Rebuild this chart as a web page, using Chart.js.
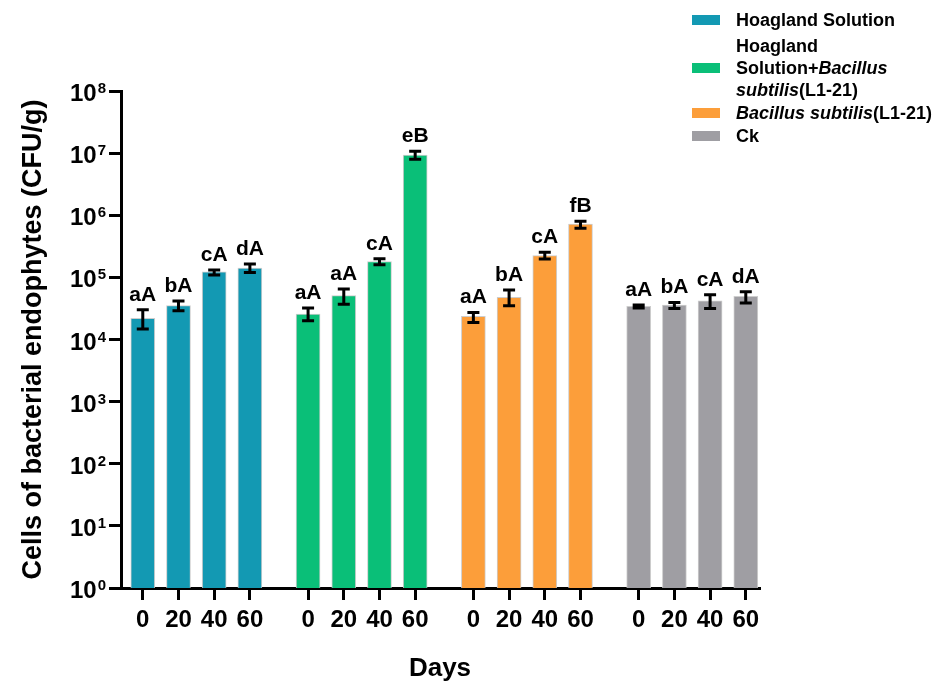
<!DOCTYPE html>
<html>
<head>
<meta charset="utf-8">
<script src="https://cdn.jsdelivr.net/npm/chart.js@4.4.1/dist/chart.umd.min.js"></script>
<style>
  body { margin: 0; background: #fff; }
  #wrap { position: relative; width: 942px; height: 684px; }
  .legend-item {
    position: absolute; left: 692px; display: flex; align-items: center;
    font: bold 18px "Liberation Sans", Arial, sans-serif; line-height: 22px; color: #000;
  }
  .legend-item .box { width: 28px; height: 10px; margin-right: 16px; flex: none; }
</style>
</head>
<body>
<div id="wrap">
  <canvas id="chart" width="942" height="684"></canvas>
  <div id="legend"></div>
</div>
<script>
// ===============================
// DATA
// ===============================

const days = ["0", "20", "40", "60"];
const yExponents = [0, 1, 2, 3, 4, 5, 6, 7, 8];

const seriesNames = [
  "Hoagland Solution",
  "Hoagland Solution+Bacillus subtilis(L1-21)",
  "Bacillus subtilis(L1-21)",
  "Ck"
];
const legendHtml = [
  "Hoagland Solution",
  "Hoagland<br>Solution+<i>Bacillus</i><br><i>subtilis</i>(L1-21)",
  "<i>Bacillus subtilis</i>(L1-21)",
  "Ck"
];
const seriesColors = ["#1399b3", "#0abf78", "#fc9e3a", "#9f9ea3"];

// CFU/g means
const hoaglandValues = [22000, 35000, 123000, 141000];
const hoaglandBsValues = [25700, 50700, 179000, 9300000];
const bsValues = [23500, 47600, 224000, 720000];
const ckValues = [34100, 35800, 42000, 49400];

// error bar ends (low / high)
const hoaglandLow = [14700, 29000, 109000, 120000];
const hoaglandHigh = [30000, 41500, 132000, 164000];
const hoaglandBsLow = [20000, 37000, 160000, 8000000];
const hoaglandBsHigh = [32000, 65000, 200000, 10700000];
const bsLow = [18800, 35000, 197000, 620000];
const bsHigh = [27300, 62500, 253000, 800000];
const ckLow = [32000, 31600, 31600, 38600];
const ckHigh = [35800, 39500, 52500, 58600];

// significance letters
const hoaglandLetters = ["aA", "bA", "cA", "dA"];
const hoaglandBsLetters = ["aA", "aA", "cA", "eB"];
const bsLetters = ["aA", "bA", "cA", "fB"];
const ckLetters = ["aA", "bA", "cA", "dA"];

const allValues = [hoaglandValues, hoaglandBsValues, bsValues, ckValues];
const allLow = [hoaglandLow, hoaglandBsLow, bsLow, ckLow];
const allHigh = [hoaglandHigh, hoaglandBsHigh, bsHigh, ckHigh];
const allLetters = [hoaglandLetters, hoaglandBsLetters, bsLetters, ckLetters];

// ===============================
// LAYOUT
// ===============================

const FONT = '"Liberation Sans", Arial, sans-serif';
const groupStep = 4.63; // group spacing in bar slots

function slotX(g, i) {
  return g * groupStep + i;
}

const tickPositions = [];
allValues.forEach((vals, g) => days.forEach((d, i) => tickPositions.push(slotX(g, i))));

const datasets = allValues.map((vals, g) => ({
  label: seriesNames[g],
  data: vals.map((v, i) => ({ x: slotX(g, i), y: v })),
  backgroundColor: seriesColors[g],
  borderColor: "rgba(200,200,200,0.9)",
  borderWidth: 1,
  borderSkipped: "bottom",
  barThickness: 24,
  grouped: false,
  errLow: allLow[g],
  errHigh: allHigh[g],
  letters: allLetters[g]
}));

// ===============================
// PLUGINS
// ===============================

const errorBarPlugin = {
  id: "errorBars",
  afterDatasetsDraw(chart) {
    const ctx = chart.ctx;
    const y = chart.scales.y;
    ctx.save();
    ctx.strokeStyle = "#000";
    ctx.fillStyle = "#000";
    ctx.lineWidth = 3;
    chart.data.datasets.forEach((ds, d) => {
      const meta = chart.getDatasetMeta(d);
      meta.data.forEach((bar, i) => {
        const top = y.getPixelForValue(ds.errHigh[i]);
        const bottom = y.getPixelForValue(ds.errLow[i]);
        const x = bar.x;
        ctx.beginPath();
        ctx.moveTo(x, top);
        ctx.lineTo(x, bottom);
        ctx.moveTo(x - 6, top);
        ctx.lineTo(x + 6, top);
        ctx.moveTo(x - 6, bottom);
        ctx.lineTo(x + 6, bottom);
        ctx.stroke();

        ctx.font = "bold 21px " + FONT;
        ctx.textAlign = "center";
        ctx.textBaseline = "alphabetic";
        ctx.fillText(ds.letters[i], x, top - 9);
      });
    });
    ctx.restore();
  },
  afterDraw(chart) {
    // y tick labels as 10 with a raised exponent
    const ctx = chart.ctx;
    const y = chart.scales.y;
    ctx.save();
    ctx.fillStyle = "#000";
    ctx.textBaseline = "alphabetic";
    ctx.textAlign = "right";
    const right = y.right - 15;
    yExponents.forEach(e => {
      const py = y.getPixelForValue(Math.pow(10, e));
      ctx.font = "bold 15px " + FONT;
      const ew = ctx.measureText(String(e)).width;
      ctx.fillText(String(e), right, py + 2);
      ctx.font = "bold 24px " + FONT;
      ctx.fillText("10", right - ew - 1, py + 10);
    });
    ctx.restore();
  }
};

// ===============================
// CHART
// ===============================

function createChart() {
  new Chart(document.getElementById("chart"), {
    type: "bar",
    data: { datasets: datasets },
    options: {
      responsive: false,
      animation: false,
      layout: { padding: { left: 0, top: 91, right: 183, bottom: 0 } },
      plugins: {
        legend: { display: false },
        tooltip: { enabled: false }
      },
      scales: {
        x: {
          type: "linear",
          offset: false,
          min: -0.61,
          max: 17.26,
          afterBuildTicks: scale => {
            scale.ticks = tickPositions.map(v => ({ value: v }));
          },
          afterFit: scale => { scale.height = 96; },
          grid: {
            display: true, offset: false, drawOnChartArea: false, drawTicks: true,
            tickLength: 12, lineWidth: 3, tickWidth: 3, tickColor: "#000"
          },
          border: { display: true, width: 3, color: "#000" },
          ticks: {
            autoSkip: false, maxRotation: 0, padding: 6, color: "#000",
            font: { family: FONT, size: 24, weight: "bold" },
            callback: (value, index) => days[index % days.length]
          },
          title: {
            display: true, text: "Days", color: "#000",
            font: { family: FONT, size: 26, weight: "bold" },
            padding: { top: 0, bottom: 0 }
          }
        },
        y: {
          type: "logarithmic",
          min: 1,
          max: 1e8,
          afterBuildTicks: scale => {
            scale.ticks = yExponents.map(e => ({ value: Math.pow(10, e) }));
          },
          afterFit: scale => { scale.width = 121; },
          grid: {
            display: true, drawOnChartArea: false, drawTicks: true,
            tickLength: 12, lineWidth: 3, tickWidth: 3, tickColor: "#000"
          },
          border: { display: true, width: 3, color: "#000" },
          ticks: { callback: () => "" },
          title: {
            display: true, text: "Cells of bacterial endophytes (CFU/g)", color: "#000",
            font: { family: FONT, size: 27, weight: "bold" },
            padding: { top: 17, bottom: 0 }
          }
        }
      }
    },
    plugins: [errorBarPlugin]
  });
}

function createLegend() {
  const legend = document.getElementById("legend");
  const tops = [9, 35, 102, 125];
  seriesNames.forEach((name, g) => {
    const item = document.createElement("div");
    item.className = "legend-item";
    item.style.top = tops[g] + "px";
    item.innerHTML = '<span class="box" style="background:' + seriesColors[g] + '"></span><span>' + legendHtml[g] + "</span>";
    legend.appendChild(item);
  });
}

document.addEventListener("DOMContentLoaded", () => {
  createChart();
  createLegend();
});
</script>
</body>
</html>
